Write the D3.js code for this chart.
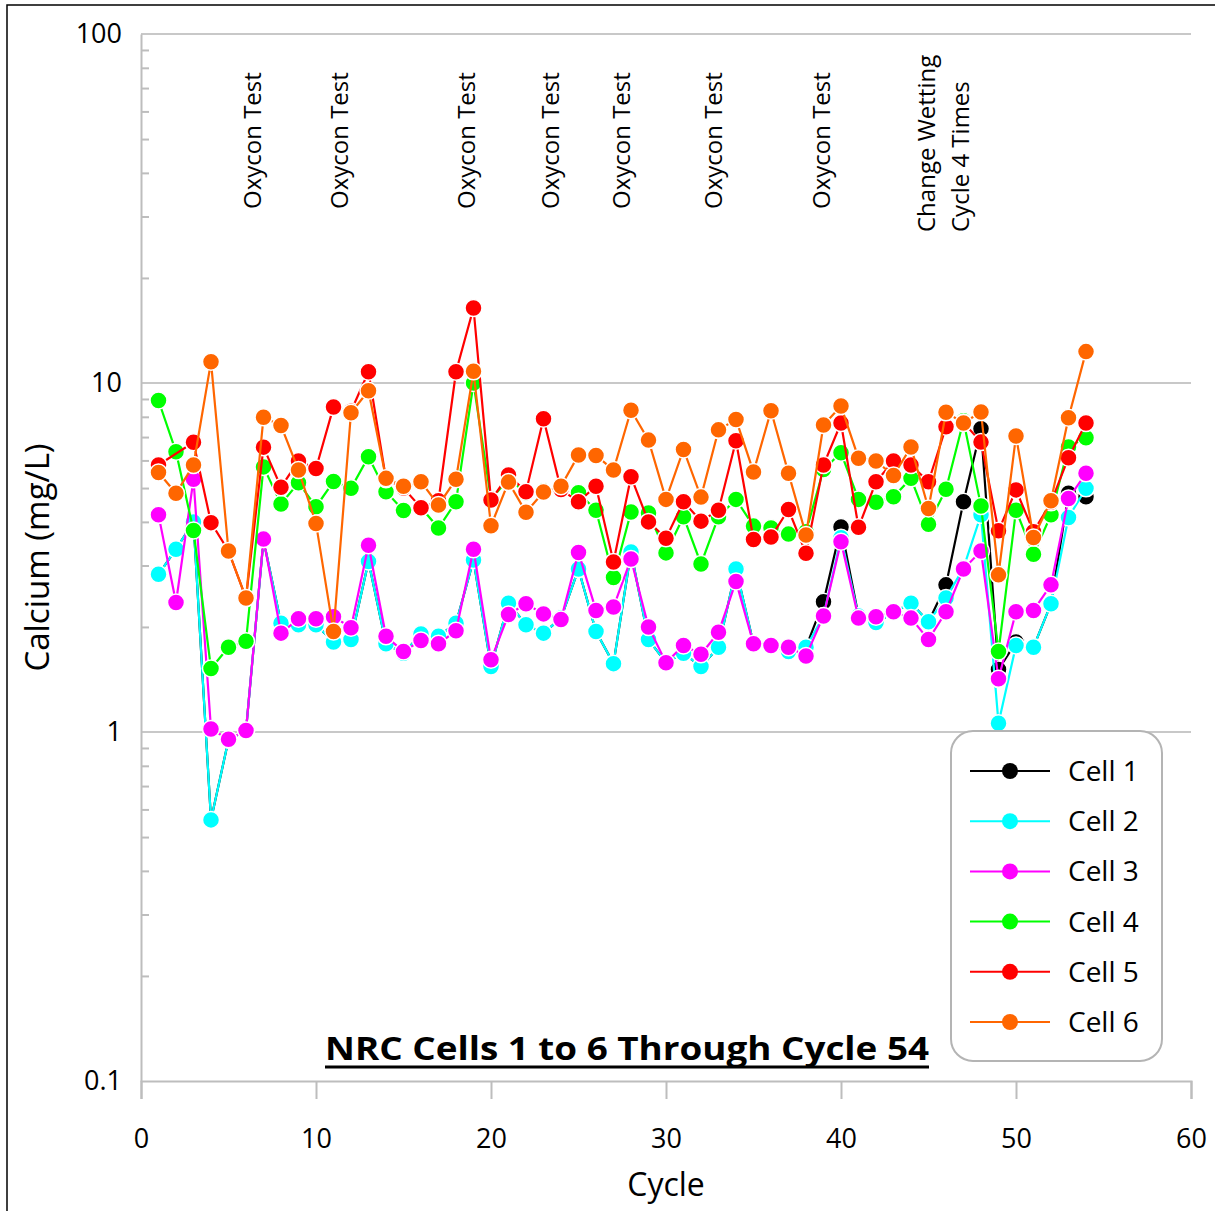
<!DOCTYPE html>
<html>
<head>
<meta charset="utf-8">
<script src="https://cdnjs.cloudflare.com/ajax/libs/d3/7.8.5/d3.min.js"></script>
<style>
  body { margin: 0; background: #fff; }
  svg { display: block; font-family: "Open Sans", sans-serif; }
</style>
</head>
<body>
<div id="chart"></div>
<script>
// data (null = no reading, line is joined across it)
var cycles = [1,2,3,4,5,6,7,8,9,10,11,12,13,14,15,16,17,18,19,20,21,22,23,24,25,26,27,
              28,29,30,31,32,33,34,35,36,37,38,39,40,41,42,43,44,45,46,47,48,49,50,51,52,53,54];

var cell1 = [2.83,3.34,4.0,0.56,0.95,1.01,3.55,2.05,2.03,2.03,1.81,1.84,3.08,1.79,1.68,1.91,1.88,2.05,3.11,1.54,2.34,2.03,1.92,2.12,2.93,1.94,1.57,
             3.28,1.84,1.58,1.68,1.54,1.75,2.93,1.79,1.77,1.70,1.75,2.36,3.87,2.15,2.06,2.2,2.34,2.07,2.64,4.57,7.4,1.51,1.81,1.75,2.33,4.83,4.72];
var cell2 = [2.83,3.34,4.0,0.56,0.95,1.01,3.55,2.05,2.03,2.03,1.81,1.84,3.08,1.79,1.68,1.91,1.88,2.05,3.11,1.54,2.34,2.03,1.92,2.12,2.93,1.94,1.57,
             3.28,1.84,1.58,1.68,1.54,1.75,2.93,1.79,1.77,1.70,1.75,2.15,3.6,2.15,2.06,2.2,2.34,2.07,2.42,2.95,4.19,1.06,1.77,1.75,2.33,4.12,4.99];
var cell3 = [4.19,2.35,5.3,1.02,0.953,1.01,3.57,1.92,2.11,2.11,2.14,1.99,3.43,1.88,1.70,1.83,1.79,1.95,3.34,1.61,2.17,2.33,2.18,2.10,3.27,2.23,2.28,
             3.13,2.0,1.58,1.77,1.67,1.93,2.70,1.79,1.77,1.75,1.65,2.15,3.51,2.12,2.14,2.21,2.12,1.84,2.21,2.93,3.3,1.42,2.21,2.23,2.64,4.67,5.51];
var cell4 = [8.91,6.35,3.78,1.52,1.75,1.82,5.75,4.5,5.18,4.42,5.22,4.99,6.15,4.88,4.31,4.4,3.84,4.57,10.0,4.65,5.3,4.85,4.9,5.0,4.85,4.32,2.77,
             4.27,4.24,3.26,4.14,3.03,4.14,4.64,3.89,3.84,3.69,3.75,5.65,6.31,4.64,4.55,4.72,5.33,3.94,4.96,7.8,4.44,1.70,4.32,3.23,4.19,6.56,6.97];
var cell5 = [5.82,null,6.76,3.98,3.3,2.42,6.55,5.03,5.98,5.69,8.54,8.3,10.77,5.3,5.0,4.39,4.6,10.77,16.4,4.62,5.45,4.88,7.9,4.95,4.57,5.06,3.07,
             5.39,4.0,3.59,4.57,4.02,4.32,6.83,3.56,3.62,4.34,3.25,5.82,7.68,3.86,5.21,5.98,5.82,5.21,7.49,7.7,6.77,3.77,4.94,3.75,4.55,6.11,7.68];
var cell6 = [5.54,4.83,5.82,11.5,3.3,2.42,7.98,7.55,5.63,3.96,1.94,8.22,9.5,5.33,5.06,5.21,4.47,5.3,10.8,3.9,5.2,4.26,4.87,5.06,6.22,6.2,5.63,
             8.36,6.86,4.64,6.45,4.71,7.34,7.86,5.56,8.33,5.51,3.67,7.58,8.59,6.09,5.98,5.43,6.56,4.37,8.24,7.68,8.26,2.82,7.05,3.61,4.6,7.95,12.3];

var seriesNames = ["Cell 1", "Cell 2", "Cell 3", "Cell 4", "Cell 5", "Cell 6"];
var seriesValues = [cell1, cell2, cell3, cell4, cell5, cell6];
var seriesColors = ["#000000", "#00ffff", "#ff00ff", "#00ff00", "#ff0000", "#ff6600"];

var xTicks = [0, 10, 20, 30, 40, 50, 60];
var yTicks = [0.1, 1, 10, 100];
var yTickLabels = ["0.1", "1", "10", "100"];

// text boxes on the plot (position in cycles)
var notes = [
  { at: 6.4,   lines: ["Oxycon Test"] },
  { at: 11.37, lines: ["Oxycon Test"] },
  { at: 18.63, lines: ["Oxycon Test"] },
  { at: 23.43, lines: ["Oxycon Test"] },
  { at: 27.49, lines: ["Oxycon Test"] },
  { at: 32.74, lines: ["Oxycon Test"] },
  { at: 38.91, lines: ["Oxycon Test"] },
  { at: 45.88, lines: ["Change Wetting", "Cycle 4 Times"] }
];

var W = 1215, H = 1211;
var pLeft = 141, pRight = 1191, pTop = 34, pBottom = 1081;

var svg = d3.select("#chart")
  .append("svg")
  .attr("width", W)
  .attr("height", H);

svg.append("rect")
  .attr("x", 7).attr("y", 5)
  .attr("width", W - 6).attr("height", H)
  .attr("fill", "#fff")
  .attr("stroke", "#000")
  .attr("stroke-width", 1.5);

var x = d3.scaleLinear().domain([0, 60]).range([pLeft, pRight]);
var y = d3.scaleLog().domain([0.1, 100]).range([pBottom, pTop]);

// gridlines
svg.append("g")
  .selectAll("line")
  .data([1, 10, 100])
  .enter()
  .append("line")
  .attr("x1", pLeft).attr("x2", pRight)
  .attr("y1", function(d) { return y(d); })
  .attr("y2", function(d) { return y(d); })
  .attr("stroke", "#c8c8c8")
  .attr("stroke-width", 2);

// minor ticks, inside the plot
var minor = [];
[0.1, 1, 10].forEach(function(dec) {
  for (var k = 2; k <= 9; k++) minor.push(dec * k);
});
var yMinor = svg.append("g")
  .attr("transform", "translate(" + pLeft + ",0)")
  .call(d3.axisRight(y).tickValues(minor).tickSize(8).tickFormat(""));
yMinor.select(".domain").remove();
yMinor.selectAll("line").attr("stroke", "#bdbdbd").attr("stroke-width", 2);

// y axis
var yAxis = svg.append("g")
  .attr("transform", "translate(" + pLeft + ",0)")
  .call(d3.axisLeft(y).tickValues(yTicks).tickSize(0).tickPadding(19)
        .tickFormat(function(d, i) { return yTickLabels[i]; }));
yAxis.select(".domain").attr("stroke", "#bdbdbd").attr("stroke-width", 2);
yAxis.selectAll("text")
  .attr("font-size", "27px")
  .attr("font-family", "Open Sans")
  .attr("fill", "#000");

// x axis
var xAxis = svg.append("g")
  .attr("transform", "translate(0," + pBottom + ")")
  .call(d3.axisBottom(x).tickValues(xTicks).tickSize(18).tickPadding(30));
xAxis.select(".domain").attr("stroke", "#bdbdbd").attr("stroke-width", 2);
xAxis.selectAll("line").attr("stroke", "#bdbdbd").attr("stroke-width", 2);
xAxis.selectAll("text")
  .attr("font-size", "27px")
  .attr("font-family", "Open Sans")
  .attr("fill", "#000");

// axis titles
svg.append("text")
  .attr("x", (pLeft + pRight) / 2)
  .attr("y", 1196)
  .attr("text-anchor", "middle")
  .attr("font-size", "32px")
  .text("Cycle");

svg.append("text")
  .attr("transform", "translate(49," + ((pTop + pBottom) / 2) + ") rotate(-90)")
  .attr("text-anchor", "middle")
  .attr("font-size", "33px")
  .text("Calcium (mg/L)");

// notes
var noteG = svg.append("g");
notes.forEach(function(n) {
  n.lines.forEach(function(t, j) {
    var cx = x(n.at) + (j - (n.lines.length - 1) / 2) * 34;
    var by = n.lines.length > 1 ? 232 : 209;
    noteG.append("text")
      .attr("transform", "translate(" + cx + "," + by + ") rotate(-90)")
      .attr("dy", "0.35em")
      .attr("font-size", "24px")
      .attr("fill", "#000")
      .text(t);
  });
});

// series: each one draws its line, then its markers
var line = d3.line()
  .x(function(d) { return x(d[0]); })
  .y(function(d) { return y(d[1]); });

seriesValues.forEach(function(vals, s) {
  var pts = cycles.map(function(c, i) { return [c, vals[i]]; })
    .filter(function(d) { return d[1] != null; });
  var g = svg.append("g");
  g.append("path")
    .attr("d", line(pts))
    .attr("fill", "none")
    .attr("stroke", seriesColors[s])
    .attr("stroke-width", 2.2);
  g.selectAll("circle")
    .data(pts)
    .enter()
    .append("circle")
    .attr("cx", function(d) { return x(d[0]); })
    .attr("cy", function(d) { return y(d[1]); })
    .attr("r", 8.5)
    .attr("fill", seriesColors[s])
    .attr("stroke", "#fff")
    .attr("stroke-width", 1.5);
});

// title
svg.append("text")
  .attr("x", 627)
  .attr("y", 1060)
  .attr("text-anchor", "middle")
  .attr("font-size", "33px")
  .attr("font-weight", "bold")
  .attr("textLength", 604)
  .attr("lengthAdjust", "spacingAndGlyphs")
  .text("NRC Cells 1 to 6 Through Cycle 54");
svg.append("line")
  .attr("x1", 325).attr("x2", 929)
  .attr("y1", 1067).attr("y2", 1067)
  .attr("stroke", "#000")
  .attr("stroke-width", 3);

// legend
var lg = svg.append("g");
lg.append("rect")
  .attr("x", 951).attr("y", 731)
  .attr("width", 211).attr("height", 330)
  .attr("rx", 22).attr("ry", 22)
  .attr("fill", "#fff")
  .attr("stroke", "#b4b4b4")
  .attr("stroke-width", 2);

var item = lg.selectAll(".item")
  .data(seriesNames)
  .enter()
  .append("g")
  .attr("class", "item")
  .attr("transform", function(d, i) { return "translate(0," + (771 + i * 50.2) + ")"; });

item.append("line")
  .attr("x1", 970).attr("x2", 1050)
  .attr("stroke", function(d, i) { return seriesColors[i]; })
  .attr("stroke-width", 2);
item.append("circle")
  .attr("cx", 1010)
  .attr("r", 8)
  .attr("fill", function(d, i) { return seriesColors[i]; });
item.append("text")
  .attr("x", 1068)
  .attr("dy", "0.36em")
  .attr("font-size", "28px")
  .text(function(d) { return d; });
</script>
</body>
</html>
